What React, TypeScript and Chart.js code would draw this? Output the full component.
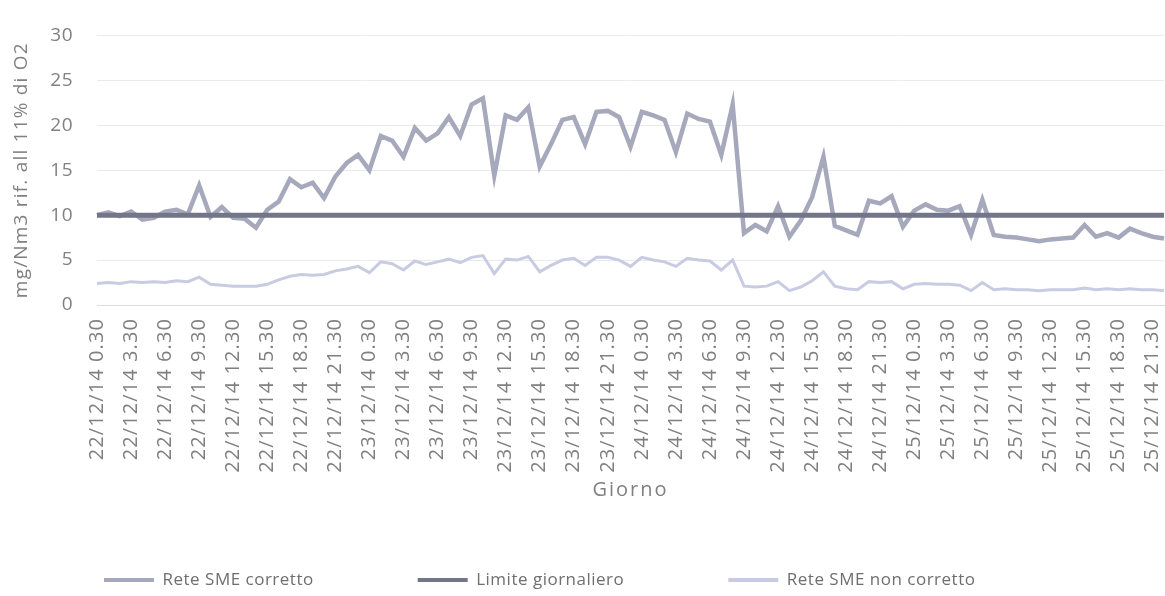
import React, { useEffect, useRef } from "react";
import { Chart, registerables } from "chart.js";

Chart.register(...registerables);

// ---- data ----
const days = ["22/12/14", "23/12/14", "24/12/14", "25/12/14"];
const hours = [
  "0.30", "1.30", "2.30", "3.30", "4.30", "5.30", "6.30", "7.30",
  "8.30", "9.30", "10.30", "11.30", "12.30", "13.30", "14.30", "15.30",
  "16.30", "17.30", "18.30", "19.30", "20.30", "21.30", "22.30", "23.30",
];
const pointCount = 95;
const categories = days.flatMap((d) => hours.map((h) => `${d} ${h}`)).slice(0, pointCount);

const seriesNames = ["Rete SME corretto", "Limite giornaliero", "Rete SME non corretto"];

const reteCorretto = [
  10.0, 10.3, 9.9, 10.4, 9.5, 9.7, 10.4, 10.6, 10.1, 13.3,
  9.8, 10.9, 9.7, 9.6, 8.6, 10.6, 11.5, 14.0, 13.1, 13.6,
  11.9, 14.3, 15.8, 16.7, 15.0, 18.8, 18.3, 16.5, 19.7, 18.3,
  19.1, 20.9, 18.8, 22.3, 23.0, 14.4, 21.1, 20.6, 22.0, 15.4,
  17.9, 20.6, 20.9, 17.9, 21.5, 21.6, 20.9, 17.6, 21.5, 21.1,
  20.6, 17.0, 21.3, 20.7, 20.4, 16.7, 22.3, 8.0, 8.9, 8.2,
  11.0, 7.6, 9.4, 12.0, 16.5, 8.8, 8.3, 7.8, 11.6, 11.3,
  12.1, 8.7, 10.5, 11.2, 10.6, 10.5, 11.0, 7.8, 11.7, 7.8,
  7.6, 7.5, 7.3, 7.1, 7.3, 7.4, 7.5, 8.9, 7.6, 8.0,
  7.5, 8.5, 8.0, 7.6, 7.4,
];

const limiteGiornaliero = [
  10, 10, 10, 10, 10, 10, 10, 10, 10, 10,
  10, 10, 10, 10, 10, 10, 10, 10, 10, 10,
  10, 10, 10, 10, 10, 10, 10, 10, 10, 10,
  10, 10, 10, 10, 10, 10, 10, 10, 10, 10,
  10, 10, 10, 10, 10, 10, 10, 10, 10, 10,
  10, 10, 10, 10, 10, 10, 10, 10, 10, 10,
  10, 10, 10, 10, 10, 10, 10, 10, 10, 10,
  10, 10, 10, 10, 10, 10, 10, 10, 10, 10,
  10, 10, 10, 10, 10, 10, 10, 10, 10, 10,
  10, 10, 10, 10, 10,
];

const reteNonCorretto = [
  2.4, 2.5, 2.4, 2.6, 2.5, 2.6, 2.5, 2.7, 2.6, 3.1,
  2.3, 2.2, 2.1, 2.1, 2.1, 2.3, 2.8, 3.2, 3.4, 3.3,
  3.4, 3.8, 4.0, 4.3, 3.6, 4.8, 4.6, 3.9, 4.9, 4.5,
  4.8, 5.1, 4.7, 5.3, 5.5, 3.5, 5.1, 5.0, 5.4, 3.7,
  4.4, 5.0, 5.2, 4.4, 5.3, 5.3, 5.0, 4.3, 5.3, 5.0,
  4.8, 4.3, 5.2, 5.0, 4.9, 3.9, 5.0, 2.1, 2.0, 2.1,
  2.6, 1.6, 2.0, 2.7, 3.7, 2.1, 1.8, 1.7, 2.6, 2.5,
  2.6, 1.8, 2.3, 2.4, 2.3, 2.3, 2.2, 1.6, 2.5, 1.7,
  1.8, 1.7, 1.7, 1.6, 1.7, 1.7, 1.7, 1.9, 1.7, 1.8,
  1.7, 1.8, 1.7, 1.7, 1.6,
];

const yTicks = { min: 0, max: 30, step: 5 };
const yTitle = "mg/Nm3 rif. all 11% di O2";
const xTitle = "Giorno";

// ---- styling ----
const FONT = "'Open Sans', sans-serif";
const TEXT = "#808080";
const COLORS = ["#a6a8bc", "#737589", "#c8cbe1"];
const WIDTHS = [4.5, 5, 3];
const W = 1165;
const H = 596;
const LEGEND_H = 30;
const PLOT_BOTTOM = 305;
const PLOT_LEFT = 97;

const legendPlacement = {
  id: "legendPlacement",
  afterInit(chart: any) {
    const lg = chart.legend;
    if (!lg || lg.__patched) return;
    lg.__patched = true;
    const origFit = lg.fit.bind(lg);
    lg.fit = function () {
      origFit();
      this.height = LEGEND_H;
    };
    const origDraw = lg.draw.bind(lg);
    lg.draw = function () {
      const t = this.top;
      const pad = this.options.labels.padding;
      this.top = t - pad + 5.5;
      origDraw();
      this.top = t;
    };
  },
};

const textSpacing = {
  id: "textSpacing",
  beforeDraw(chart: any) {
    chart.ctx.letterSpacing = "0.5px";
    const wrap = (obj: any, name: string, sp: string) => {
      if (!obj || obj["__w_" + name]) return;
      obj["__w_" + name] = true;
      const orig = obj[name];
      obj[name] = function (...a: any[]) {
        const c = this.ctx;
        const prev = c.letterSpacing;
        c.letterSpacing = sp;
        const r = orig.apply(this, a);
        c.letterSpacing = prev;
        return r;
      };
    };
    wrap(chart.scales.x, "drawLabels", "1.1px");
    wrap(chart.scales.x, "drawTitle", "2px");
    wrap(chart.scales.y, "drawTitle", "1.2px");
  },
};

export default function App() {
  const ref = useRef<HTMLCanvasElement | null>(null);

  useEffect(() => {
    if (!ref.current) return;
    const values = [reteCorretto, limiteGiornaliero, reteNonCorretto];
    const chart = new Chart(ref.current, {
      type: "line",
      data: {
        labels: categories,
        datasets: seriesNames.map((name, i) => ({
          label: name,
          data: values[i],
          borderColor: COLORS[i],
          backgroundColor: COLORS[i],
          borderWidth: WIDTHS[i],
          pointRadius: 0,
          tension: 0,
          fill: false,
          order: 3 - i,
        })),
      },
      plugins: [legendPlacement, textSpacing],
      options: {
        responsive: false,
        animation: false,
        events: [],
        layout: { padding: { top: 23, right: 1, left: 0, bottom: 0 } },
        plugins: {
          tooltip: { enabled: false },
          legend: {
            position: "bottom",
            align: "start",
            labels: {
              boxWidth: 50,
              boxHeight: 4,
              padding: 104,
              color: "#6f6f6f",
              font: { family: FONT, size: 17 },
              generateLabels: (c: any) =>
                c.data.datasets.map((ds: any, i: number) => ({
                  text: ds.label,
                  fillStyle: ds.borderColor,
                  strokeStyle: ds.borderColor,
                  lineWidth: 0,
                  hidden: false,
                  datasetIndex: i,
                  fontColor: "#6f6f6f",
                })),
            },
          },
        },
        scales: {
          x: {
            type: "category",
            offset: false,
            grid: { display: false, drawTicks: false },
            border: { display: true, color: "#dcdce4", width: 1 },
            ticks: {
              autoSkip: false,
              maxRotation: 90,
              minRotation: 90,
              padding: 13,
              color: TEXT,
              font: { family: FONT, size: 20 },
              callback: function (this: any, value: any, index: number) {
                return index % 3 === 0 ? this.getLabelForValue(value) : "";
              },
            },
            title: {
              display: true,
              text: xTitle,
              color: TEXT,
              font: { family: FONT, size: 20 },
              padding: { top: 0, bottom: 64 },
            },
            afterFit: (scale: any) => {
              scale.height = H - LEGEND_H - PLOT_BOTTOM;
              scale.paddingLeft = 0;
              scale.paddingRight = 0;
            },
          },
          y: {
            min: yTicks.min,
            max: yTicks.max,
            grid: { color: "#e9e9f0", drawTicks: false, lineWidth: 1 },
            border: { display: false },
            ticks: {
              stepSize: yTicks.step,
              padding: 24,
              color: TEXT,
              font: { family: FONT, size: 19 },
            },
            title: {
              display: true,
              text: yTitle,
              color: TEXT,
              font: { family: FONT, size: 19 },
              padding: { top: 10, bottom: 0 },
            },
            afterFit: (scale: any) => {
              scale.width = PLOT_LEFT;
            },
          },
        },
      },
    } as any);
    return () => chart.destroy();
  }, []);

  return (
    <div style={{ position: "fixed", left: 0, top: 0, width: W, height: H, background: "#fff" }}>
      <canvas ref={ref} width={W} height={H} style={{ display: "block" }} />
    </div>
  );
}
